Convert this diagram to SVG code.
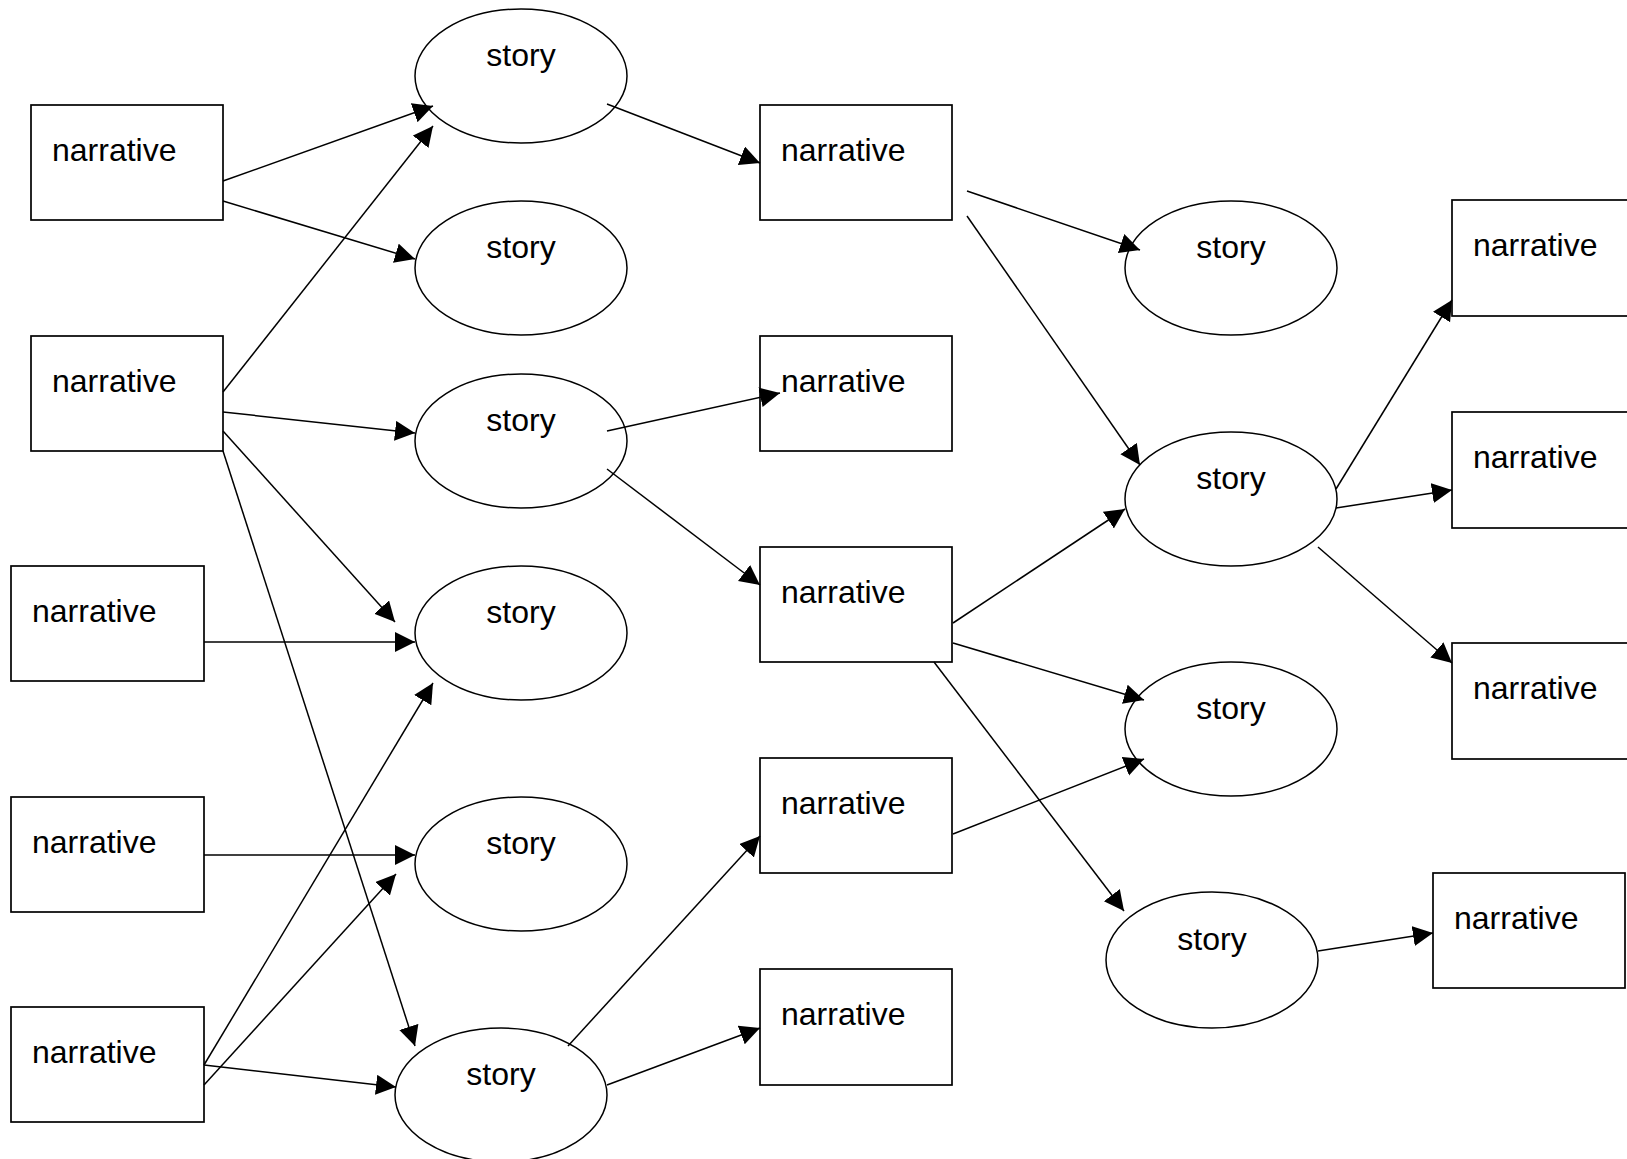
<svg xmlns="http://www.w3.org/2000/svg" width="1627" height="1159" viewBox="0 0 1627 1159">
<style>
.box{fill:#fff;stroke:#000;stroke-width:1.7}
.ell{fill:#fff;stroke:#000;stroke-width:1.5}
.t{font-family:"Liberation Sans",Arial,sans-serif;font-size:32px;fill:#000}
.c{stroke:#000;stroke-width:1.5;fill:none;marker-end:url(#ah)}
</style>
<defs>
<marker id="ah" markerUnits="userSpaceOnUse" markerWidth="21" markerHeight="21" refX="20" refY="10" orient="auto">
<path d="M0,0 L20,10 L0,20 z" fill="#000"/>
</marker>
</defs>
<rect width="1627" height="1159" fill="#fff"/>
<g id="nodes">
<g id="n1"><rect class="box" x="31" y="105" width="192" height="115"/><text class="t" x="52" y="161">narrative</text></g>
<g id="n2"><rect class="box" x="31" y="336" width="192" height="115"/><text class="t" x="52" y="392">narrative</text></g>
<g id="n3"><rect class="box" x="11" y="566" width="193" height="115"/><text class="t" x="32" y="622">narrative</text></g>
<g id="n4"><rect class="box" x="11" y="797" width="193" height="115"/><text class="t" x="32" y="853">narrative</text></g>
<g id="n5"><rect class="box" x="11" y="1007" width="193" height="115"/><text class="t" x="32" y="1063">narrative</text></g>
<g id="s1"><ellipse class="ell" cx="521" cy="76" rx="106" ry="67"/><text class="t" x="521" y="66" text-anchor="middle">story</text></g>
<g id="s2"><ellipse class="ell" cx="521" cy="268" rx="106" ry="67"/><text class="t" x="521" y="258" text-anchor="middle">story</text></g>
<g id="s3"><ellipse class="ell" cx="521" cy="441" rx="106" ry="67"/><text class="t" x="521" y="431" text-anchor="middle">story</text></g>
<g id="s4"><ellipse class="ell" cx="521" cy="633" rx="106" ry="67"/><text class="t" x="521" y="623" text-anchor="middle">story</text></g>
<g id="s5"><ellipse class="ell" cx="521" cy="864" rx="106" ry="67"/><text class="t" x="521" y="854" text-anchor="middle">story</text></g>
<g id="s6"><ellipse class="ell" cx="501" cy="1095" rx="106" ry="67"/><text class="t" x="501" y="1085" text-anchor="middle">story</text></g>
<g id="n6"><rect class="box" x="760" y="105" width="192" height="115"/><text class="t" x="781" y="161">narrative</text></g>
<g id="n7"><rect class="box" x="760" y="336" width="192" height="115"/><text class="t" x="781" y="392">narrative</text></g>
<g id="n8"><rect class="box" x="760" y="547" width="192" height="115"/><text class="t" x="781" y="603">narrative</text></g>
<g id="n9"><rect class="box" x="760" y="758" width="192" height="115"/><text class="t" x="781" y="814">narrative</text></g>
<g id="n10"><rect class="box" x="760" y="969" width="192" height="116"/><text class="t" x="781" y="1025">narrative</text></g>
<g id="s7"><ellipse class="ell" cx="1231" cy="268" rx="106" ry="67"/><text class="t" x="1231" y="258" text-anchor="middle">story</text></g>
<g id="s8"><ellipse class="ell" cx="1231" cy="499" rx="106" ry="67"/><text class="t" x="1231" y="489" text-anchor="middle">story</text></g>
<g id="s9"><ellipse class="ell" cx="1231" cy="729" rx="106" ry="67"/><text class="t" x="1231" y="719" text-anchor="middle">story</text></g>
<g id="s10"><ellipse class="ell" cx="1212" cy="960" rx="106" ry="68"/><text class="t" x="1212" y="950" text-anchor="middle">story</text></g>
<g id="n11"><rect class="box" x="1452" y="200" width="192" height="116"/><text class="t" x="1473" y="256">narrative</text></g>
<g id="n12"><rect class="box" x="1452" y="412" width="192" height="116"/><text class="t" x="1473" y="468">narrative</text></g>
<g id="n13"><rect class="box" x="1452" y="643" width="192" height="116"/><text class="t" x="1473" y="699">narrative</text></g>
<g id="n14"><rect class="box" x="1433" y="873" width="192" height="115"/><text class="t" x="1454" y="929">narrative</text></g>
</g>
<g id="connectors">
<line class="c" x1="223" y1="181" x2="433" y2="106"/>
<line class="c" x1="223" y1="201" x2="415" y2="259"/>
<line class="c" x1="223" y1="392" x2="433" y2="126"/>
<line class="c" x1="223" y1="412" x2="415" y2="433"/>
<line class="c" x1="223" y1="431" x2="395" y2="622"/>
<line class="c" x1="223" y1="451" x2="415" y2="1046"/>
<line class="c" x1="204" y1="642" x2="415" y2="642"/>
<line class="c" x1="204" y1="855" x2="415" y2="855"/>
<line class="c" x1="204" y1="1065" x2="433" y2="683"/>
<line class="c" x1="204" y1="1085" x2="396" y2="874"/>
<line class="c" x1="204" y1="1065" x2="396" y2="1087"/>
<line class="c" x1="607" y1="104" x2="760" y2="163"/>
<line class="c" x1="607" y1="431" x2="780" y2="393"/>
<line class="c" x1="607" y1="469" x2="760" y2="585"/>
<line class="c" x1="568" y1="1046" x2="760" y2="836"/>
<line class="c" x1="607" y1="1085" x2="760" y2="1028"/>
<line class="c" x1="967" y1="191" x2="1140" y2="250"/>
<line class="c" x1="967" y1="216" x2="1140" y2="465"/>
<line class="c" x1="953" y1="623" x2="1125" y2="509"/>
<line class="c" x1="953" y1="643" x2="1144" y2="700"/>
<line class="c" x1="934" y1="662" x2="1124" y2="911"/>
<line class="c" x1="953" y1="834" x2="1144" y2="759"/>
<line class="c" x1="1336" y1="489" x2="1452" y2="300"/>
<line class="c" x1="1336" y1="508" x2="1452" y2="490"/>
<line class="c" x1="1318" y1="547" x2="1452" y2="663"/>
<line class="c" x1="1318" y1="951" x2="1433" y2="933"/>
</g>
</svg>
